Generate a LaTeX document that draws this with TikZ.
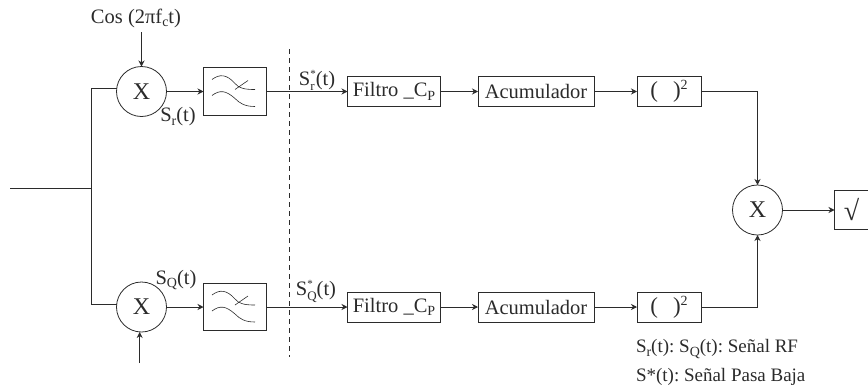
\documentclass[tikz,border=0pt]{standalone}
\usepackage{fontspec}
\setmainfont{Liberation Serif}
\usetikzlibrary{arrows.meta,positioning}
\definecolor{wire}{HTML}{2B2B2B}
\frenchspacing
\newcommand{\lowsub}[1]{\raisebox{-3.5pt}{\fontsize{14}{14}\selectfont #1}}
\newcommand{\starsub}[1]{\ooalign{\raisebox{8.5pt}{\fontsize{11}{11}\selectfont *}\hfil\cr\raisebox{-4.5pt}{\fontsize{13}{13}\selectfont #1}\hfil\cr}}
\newcommand{\squared}{\fontsize{23}{23}\selectfont(\hspace{15pt})\raisebox{8pt}{\fontsize{14}{14}\selectfont 2}}
\begin{document}
\begin{tikzpicture}[
    x=1pt,y=-1pt,
    line width=0.8pt,
    txt/.style={font=\fontsize{20.5}{22}\selectfont,text=wire,inner sep=0pt,outer sep=0pt},
    box/.style={rectangle,draw=wire,txt,minimum height=30pt,align=center},
    lpfbox/.style={rectangle,draw=wire,minimum width=63pt,minimum height=47.5pt,inner sep=0pt,outer sep=0pt},
    mix/.style={circle,draw=wire,txt,font=\fontsize{24}{24}\selectfont,minimum size=50pt},
    arr/.style={-{Stealth[length=6pt,width=6pt]},wire},
    plain/.style={wire},
    curve/.style={wire,line width=0.6pt},
    lbl/.style={txt},
    note/.style={txt,font=\fontsize{19}{22}\selectfont,anchor=west}
  ]
    \useasboundingbox (0,0) rectangle (868,386);

    \node[mix] (mixr) at (141.5,91.5) {X};
    \node[lpfbox,right=37pt of mixr] (lpfr) {};
    \node[box,minimum width=93pt,right=81pt of lpfr] (filtr) {Filtro \_C\lowsub{P}};
    \node[box,minimum width=116pt,right=37.5pt of filtr] (acumr) {Acumulador};
    \node[box,minimum width=64pt,right=43pt of acumr] (sqr) {\squared};

    \node[mix] (mixq) at (141.5,307) {X};
    \node[lpfbox,right=37pt of mixq] (lpfq) {};
    \node[box,minimum width=93pt,below=185.5pt of filtr] (filtq) {Filtro \_C\lowsub{P}};
    \node[box,minimum width=116pt,right=37.5pt of filtq] (acumq) {Acumulador};
    \node[box,minimum width=64pt,right=43pt of acumq] (sqq) {\squared};

    \node[mix] (prod) at (757.5,210) {X};
    \node[box,minimum width=34pt,minimum height=39pt,right=52pt of prod] (root) {\fontsize{28}{28}\selectfont √};

    \foreach \f in {lpfr,lpfq} {
      \begin{scope}[shift={(\f.center)}]
        \draw[curve] (-23,-12) .. controls (-15,-18) and (-8,-17) .. (0,-8)
          .. controls (4,-3) and (10,-2) .. (20,-2);
        \draw[curve] (-23,4) .. controls (-15,-2) and (-9,-1) .. (0,7)
          .. controls (5,12) and (10,15) .. (20,15);
        \draw[curve] (0,-2) -- (13,-11);
      \end{scope}
    }

    \coordinate (inp) at (10,188);
    \coordinate (split) at (91,188);
    \coordinate (cosend) at (141.5,32);
    \coordinate (qend) at (139.7,363);
    \coordinate (dashtop) at (289.5,49);
    \coordinate (dashbot) at (289.5,357);

    \node[lbl] (coslabel) at (136,18) {Cos (2πf\lowsub{c}t)};
    \node[lbl] (srlabel) at (178,117) {S\lowsub{r}(t)};
    \node[lbl] (sqlabel) at (176,280) {S\lowsub{Q}(t)};
    \node[lbl] (srstar) at (317,80) {S\starsub{r}(t)};
    \node[lbl] (sqstar) at (316,291) {S\starsub{Q}(t)};
    \node[note] (legenda) at (636,349) {S\lowsub{r}(t): S\lowsub{Q}(t): Señal RF};
    \node[note] (legendb) at (636,377) {S*(t): Señal Pasa Baja};

    \draw[plain] (inp) -- (split);
    \draw[plain] (split) |- (mixr.174);
    \draw[plain] (split) |- (mixq.173);
    \draw[arr] (cosend) -- (mixr.north);
    \draw[arr] (qend) -- (qend |- mixq.south);

    \draw[arr] (mixr) -- (lpfr);
    \draw[arr] (mixq) -- (lpfq);
    \draw[arr] (lpfr.east) -- (lpfr.east -| filtr.west);
    \draw[arr] (lpfq.east) -- (lpfq.east -| filtq.west);
    \draw[arr] (filtr) -- (acumr);
    \draw[arr] (filtq) -- (acumq);
    \draw[arr] (acumr) -- (sqr);
    \draw[arr] (acumq) -- (sqq);
    \draw[arr] (sqr) -| (prod);
    \draw[arr] (sqq) -| (prod);
    \draw[arr] (prod) -- (root);

    \draw[plain,dash pattern=on 5pt off 4pt,line width=0.6pt] (dashtop) -- (dashbot);
  \end{tikzpicture}
\end{document}
